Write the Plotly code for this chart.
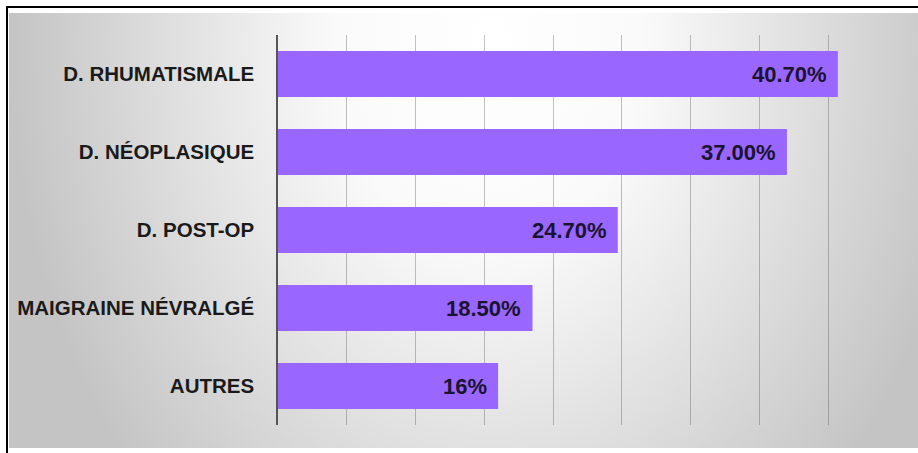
import base64
import plotly.graph_objects as go

# ---- data ----
categories = ["D. RHUMATISMALE", "D. NÉOPLASIQUE", "D. POST-OP", "MAIGRAINE NÉVRALGÉ", "AUTRES"]
values = [40.7, 37.0, 24.7, 18.5, 16.0]
value_labels = ["40.70%", "37.00%", "24.70%", "18.50%", "16%"]

# ---- layout geometry (pixels) ----
W, H = 918, 453
L, R, T, B = 278, 21, 35, 28
PW, PH = W - L - R, H - T - B


def px(x):
    return (x - L) / PW


def py(y):
    return 1 - (y - T) / PH


# background gradient as an SVG image
bg_x0, bg_y0, bg_x1, bg_y1 = 9, 13, 918, 448
bw, bh = bg_x1 - bg_x0, bg_y1 - bg_y0
svg = f'''<svg xmlns="http://www.w3.org/2000/svg" width="{bw}" height="{bh}" viewBox="0 0 {bw} {bh}" preserveAspectRatio="none">
<defs><radialGradient id="g" gradientUnits="userSpaceOnUse" cx="480" cy="30" r="480"
gradientTransform="translate(0,30) scale(1,1.33) translate(0,-30)">
<stop offset="0" stop-color="#ffffff"/>
<stop offset="0.32" stop-color="#fafafa"/>
<stop offset="1" stop-color="#c4c4c4"/>
</radialGradient></defs>
<rect x="0" y="0" width="{bw}" height="{bh}" fill="url(#g)"/>
</svg>'''
src = "data:image/svg+xml;base64," + base64.b64encode(svg.encode("utf-8")).decode("ascii")

fig = go.Figure()
fig.add_trace(go.Bar(
    x=values,
    y=categories,
    orientation="h",
    marker=dict(color="#9966ff", line=dict(width=0)),
    hoverinfo="skip",
))

annotations = []
for c, v, t in zip(categories, values, value_labels):
    annotations.append(dict(
        x=v, y=c, xref="x", yref="y", text=f"<b>{t}</b>", showarrow=False,
        xanchor="right", yanchor="middle", xshift=-9,
        font=dict(family="Liberation Sans, Arial, sans-serif", size=22, color="#1a1430"),
    ))

fig.update_layout(
    width=W, height=H,
    margin=dict(l=L, r=R, t=T, b=B, pad=0),
    paper_bgcolor="white",
    plot_bgcolor="rgba(0,0,0,0)",
    showlegend=False,
    bargap=0.41,
    annotations=annotations,
    images=[dict(
        source=src, xref="paper", yref="paper",
        x=px(bg_x0), y=py(bg_y0), sizex=bw / PW, sizey=bh / PH,
        xanchor="left", yanchor="top", sizing="stretch", layer="below",
    )],
    shapes=[
        dict(type="line", xref="paper", yref="paper", x0=px(7), x1=px(7), y0=py(6), y1=py(453),
             line=dict(color="black", width=2)),
        dict(type="line", xref="paper", yref="paper", x0=px(6), x1=px(920), y0=py(7), y1=py(7),
             line=dict(color="black", width=2)),
    ],
    xaxis=dict(
        range=[0, 45], dtick=5, tick0=0,
        showgrid=True, gridcolor="rgba(70,70,70,0.33)", gridwidth=1,
        showticklabels=False, zeroline=False, showline=False, ticks="",
        fixedrange=True,
    ),
    yaxis=dict(
        autorange="reversed",
        tickvals=categories, ticktext=[f"<b>{c}</b>" for c in categories],
        showline=True, linecolor="#555555", linewidth=1.5,
        showgrid=False, zeroline=False,
        ticks="outside", ticklen=18, tickcolor="rgba(0,0,0,0)",
        tickfont=dict(family="Liberation Sans, Arial, sans-serif", size=20.5, color="#1a1a1a"),
        fixedrange=True,
    ),
)

fig.write_html("out.html")
